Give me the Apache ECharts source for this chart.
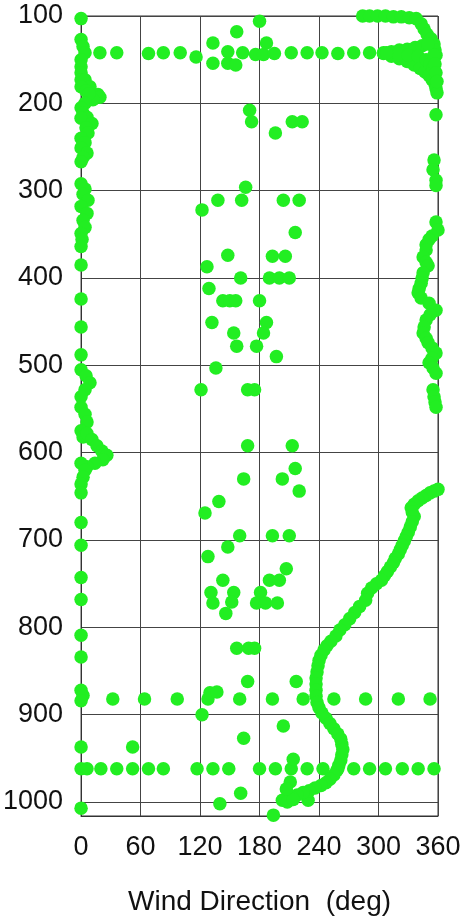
<!DOCTYPE html>
<html>
<head>
<meta charset="utf-8">
<script src="https://cdn.jsdelivr.net/npm/echarts@6/dist/echarts.min.js"></script>
<style>html,body{margin:0;padding:0;background:#fff}#c{width:476px;height:923px}</style>
</head>
<body>
<div id="c"></div>
<script>
// x ticks (deg) and y ticks (pressure)
const xTicks = [0, 60, 120, 180, 240, 300, 360];
const yTicks = [100, 200, 300, 400, 500, 600, 700, 800, 900, 1000];

// [direction deg, pressure]
const leftEdge = [[0,103],[0,127],[2,135],[4,142],[0,150],[0,158],[0,165],[0,173],[4,173],[9,181],[0,181],[5,186],[17,190],[19,193],[12,196],[8,189],[4,200],[0,205],[2,211],[6,216],[0,217],[11,223],[5,228],[7,234],[0,240],[4,245],[0,251],[6,257],[2,262],[0,267],
[0,292],[4,298],[2,304],[7,311],[0,318],[6,326],[2,334],[4,342],[0,349],[1,356],[0,364],
[0,385],[0,424],[0,456],[0,488],
[0,505],[5,512],[9,520],[4,528],[0,536],
[0,548],[4,556],[6,565],[0,575],[2,582],[6,578],[11,585],[16,592],[21,598],[26,603],[22,608],[14,612],[6,616],[0,612],[4,620],[2,628],[0,636],[0,646],
[0,680],[0,706],[0,743],[0,768],[0,809],[0,834],[0,872],[2,878],[0,884],[0,937],[0,962],[0,1007]];

const topTrace = [[284,100],[291,100],[299,100],[307,100],[315,101],[323,101],[331,102],[338,103],[343,109],[346,115],[349,121],[353,126],[356,132],[357,139],[358,145],
[305,142],[313,141],[321,139],[329,138],[337,136],[344,134],[350,132],
[305,143],[313,146],[321,149],[329,152],[336,156],[342,160],[347,164],[351,168],[354,173],[357,178],[358,183],[359,188],
[320,144],[330,145],[340,146],[348,150],[352,155],[355,160],[356,145],[357,155],[358,165],[359,175]];

const rightEdge = [[358,213],[356,265],[355,276],[358,288],[358,294],
[358,336],[360,345],[354,352],[351,356],[348,362],[348,368],[345,376],[348,382],[350,386],[345,394],[344,400],[343,406],[341,412],[340,417],[343,423],[351,429],[358,437],[352,442],[348,448],[346,456],[345,463],[348,469],[350,474],[354,480],[358,486],[354,492],[351,497],[355,503],[358,509],[355,528],[356,536],[357,542],[358,548]];

const row142 = [[19,142],[36,142],[68,143],[83,142],[100,142],[116,147],[133,131],[133,154],[148,141],[148,154],[163,142],[176,144],[187,131],[184,144],[195,143],[212,142],[228,142],[243,142],[259,143],[275,142],[291,142],[308,142]];

const row882 = [[32,882],[64,882],[97,882],[128,882],[130,875],[137,874],[160,882],[193,882],[224,882],[255,882],[287,882],[320,882],[352,882]];

const row962 = [[6,962],[20,962],[36,962],[52,962],[68,962],[83,962],[117,962],[133,962],[149,962],[180,962],[196,962],[212,962],[228,962],[244,962],[259,962],[275,962],[291,962],[307,962],[324,962],[340,962],[356,962]];

const midScatter = [[180,106],[157,118],[156,156],
[170,208],[172,221],[196,234],[213,221],[223,221],
[122,322],[138,311],[162,311],[166,296],[204,311],[220,311],
[216,348],[193,375],[206,375],[148,374],[127,387],
[161,400],[190,400],[200,400],[210,400],
[129,412],[143,426],[150,426],[156,426],[180,426],
[132,451],[154,463],[157,478],[187,451],[184,463],[177,478],[197,490],
[136,503],[121,528],[168,528],[175,528],
[168,592],[213,592],[216,618],[164,630],[203,630],[220,644],
[139,656],[125,669],[160,695],[193,695],[210,695],[148,708],[128,719],
[207,733],[143,746],[190,746],[200,746],[131,760],[154,760],[181,760],[133,772],[152,771],[177,772],[186,772],[198,772],[146,784],
[157,824],[169,824],[175,824],
[168,862],[217,862],
[122,900],[204,913],[164,927],
[52,937],[214,951],[211,977],[161,990],[229,998],[140,1002],[194,1015]];

const lowerTrace = [[360,642],[356,644],[352,646],[348,649],[344,652],[340,655],[336,659],[333,663],[334,668],[336,673],[334,679],[332,685],[330,691],[328,696],[326,701],[324,706],[322,711],[320,716],[317,721],[315,726],[312,731],[309,736],[306,741],[303,746],[298,750],[293,755],[289,761],
[287,769],[281,776],[276,783],[271,790],[266,797],[261,803],[257,810],[252,816],[248,821],[245,826],[242,832],[240,838],[239,844],[238,851],[237,858],[237,865],[237,872],[237,879],[238,886],[240,892],[243,898],[247,904],[251,910],[255,916],[259,922],[262,928],[263,934],[264,940],[263,946],[262,952],[260,958],[258,964],[255,969],[251,974],[247,978],[242,981],[236,984],[230,987],[224,989],[218,992],[212,994],[207,996],[203,998],[208,1000],[214,997],[207,985]];

const GREEN = '#22ee22';
const groups = [leftEdge, topTrace, rightEdge, row142, row882, row962, midScatter, lowerTrace];
const FONT = 'Liberation Sans, Arial, Helvetica, sans-serif';

const chart = echarts.init(document.getElementById('c'), null, {renderer: 'canvas'});
chart.setOption({
  animation: false,
  backgroundColor: '#ffffff',
  grid: {left: 81, right: 38, top: 16, bottom: 107, show: true, borderColor: '#333', borderWidth: 1},
  xAxis: {
    type: 'value', min: xTicks[0], max: xTicks[xTicks.length - 1], interval: 60,
    name: 'Wind Direction  (deg)', nameLocation: 'middle', nameGap: 72,
    nameTextStyle: {fontSize: 28, color: '#111', fontFamily: FONT},
    axisLine: {show: true, lineStyle: {color: '#333', width: 1}},
    axisTick: {show: false},
    axisLabel: {fontSize: 27, color: '#111', fontFamily: FONT, margin: 18},
    splitLine: {show: true, lineStyle: {color: '#444', width: 1}}
  },
  yAxis: {
    type: 'value', inverse: true, min: yTicks[0], max: 1016, interval: 100,
    axisLine: {show: true, lineStyle: {color: '#333', width: 1}},
    axisTick: {show: false},
    axisLabel: {fontSize: 27, color: '#111', fontFamily: FONT, margin: 18, padding: [12, 0, 0, 0],
      formatter: v => (yTicks.indexOf(v) >= 0 ? String(v) : '')},
    splitLine: {show: true, lineStyle: {color: '#444', width: 1}}
  },
  series: groups.map(g => ({
    type: 'scatter', data: g, symbol: 'circle', symbolSize: 13.5,
    clip: false, itemStyle: {color: GREEN, opacity: 1}
  }))
});
</script>
</body>
</html>
